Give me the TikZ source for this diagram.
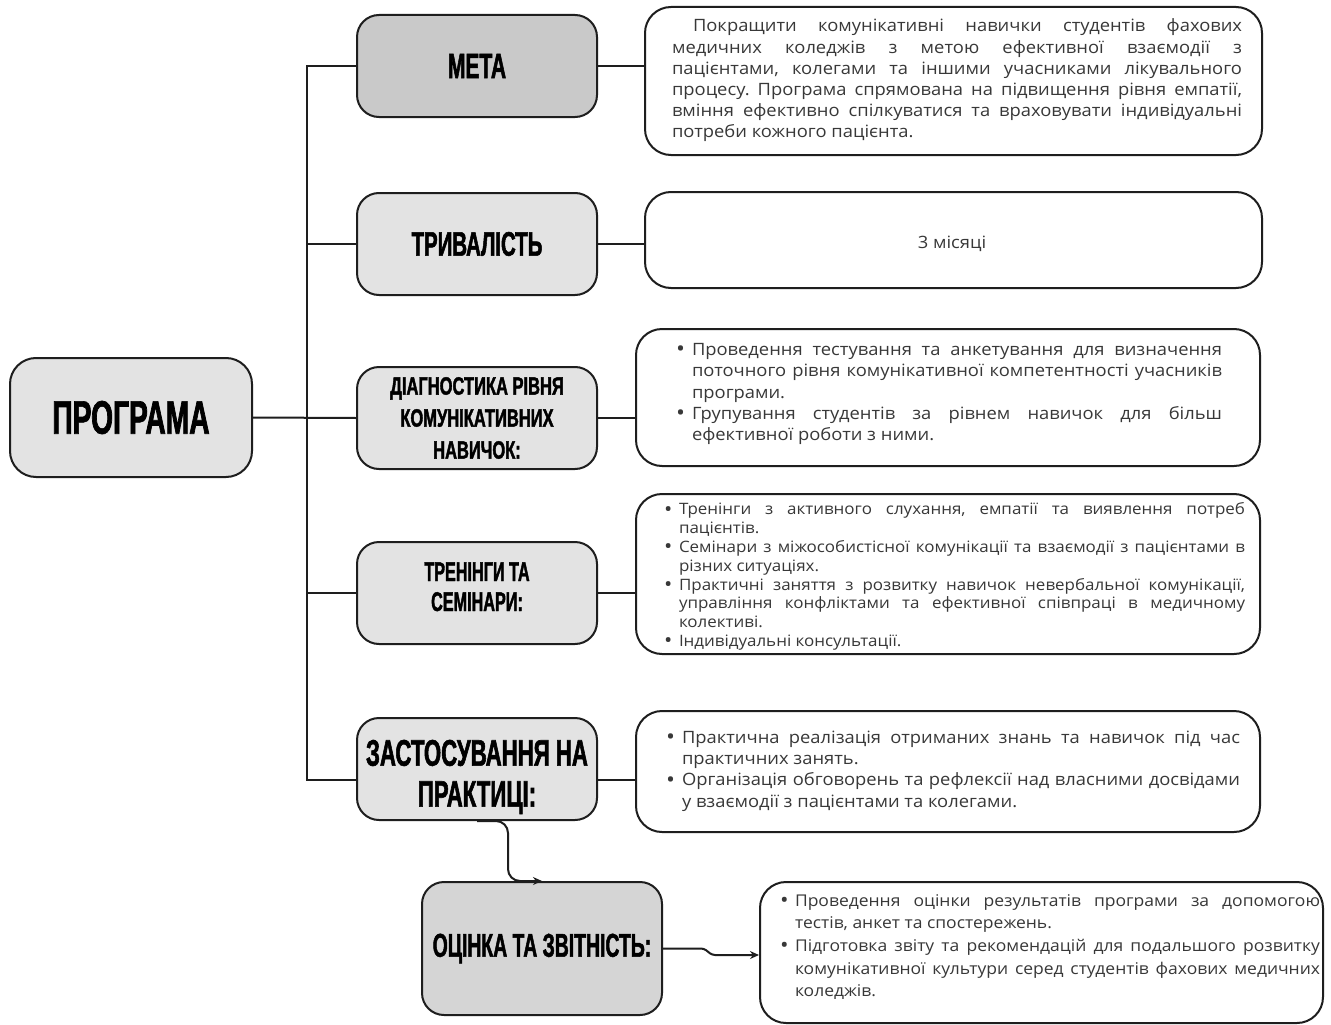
\documentclass[tikz,border=0pt]{standalone}
\usepackage{fontspec}
\setmainfont{Open Sans}[FakeStretch=1.08]
\newfontfamily\ttlfont{Liberation Sans}[FakeStretch=0.6, BoldFeatures={FakeStretch=0.6, FakeBold=1.5}]
\usetikzlibrary{arrows.meta}

\definecolor{ink}{HTML}{1E1E1E}
\definecolor{txtc}{HTML}{383838}
\definecolor{fillA}{HTML}{E3E3E3}
\definecolor{fillB}{HTML}{C9C9C9}
\definecolor{fillC}{HTML}{D5D5D5}

\tolerance=9999
\hbadness=10000
\frenchspacing

% bullet paragraph with hanging indent: #1 = indent, #2 = text
\newcommand\bul[2]{\hangindent=#1\hangafter=1\noindent
  \makebox[#1][l]{\raisebox{-1.3pt}{\scalebox{1.3}{•}}}#2\par}

\tikzset{
  hbox/.style={draw=ink, line width=2pt, rounded corners=22pt, fill=fillA,
    minimum width=240pt, minimum height=102pt, align=center, inner sep=0pt, text=black},
  tbox/.style={draw=ink, line width=2pt, rounded corners=26pt, fill=white},
  body/.style={text=txtc, align=justify, inner sep=0pt,
    font=\fontsize{17}{21.2}\selectfont},
  small/.style={font=\fontsize{15.7}{18.8}\selectfont},
  link/.style={draw=ink, line width=2pt},
  arr/.style={link, -{Stealth[length=9pt,width=8pt]}},
}

\begin{document}
\begin{tikzpicture}[x=1pt, y=-1pt]
\useasboundingbox[fill=white] (0,0) rectangle (1331,1025);

% ---- left column ----
\node[hbox, minimum width=242pt, minimum height=119pt, rounded corners=26pt,
      font=\fontsize{47}{50}\ttlfont\bfseries] (prog) at (131,417.5) {ПРОГРАМА};

\node[hbox, fill=fillB, font=\fontsize{35}{38}\ttlfont\bfseries] (meta) at (477,66) {МЕТА};
\node[hbox, font=\fontsize{34}{38}\ttlfont\bfseries] (triv) at (477,244) {ТРИВАЛІСТЬ};
\node[hbox, font=\fontsize{25}{32}\ttlfont\bfseries] (diag) at (477,418)
  {\scalebox{1.1}[1]{ДІАГНОСТИКА РІВНЯ}\\\scalebox{1.1}[1]{КОМУНІКАТИВНИХ}\\\scalebox{1.1}[1]{НАВИЧОК:}};
\node[hbox, font=\fontsize{27}{30}\ttlfont\bfseries] (tren) at (477,593)
  {\raisebox{3pt}[\height][\depth]{\begin{tabular}{@{}c@{}}ТРЕНІНГИ ТА\\СЕМІНАРИ:\end{tabular}}};
\node[hbox, font=\fontsize{37}{41}\ttlfont\bfseries] (zast) at (477,769)
  {\raisebox{-9pt}[\height][\depth]{\begin{tabular}{@{}c@{}}ЗАСТОСУВАННЯ НА\\ПРАКТИЦІ:\end{tabular}}};
\node[hbox, fill=fillC, minimum height=133pt, font=\fontsize{33}{38}\ttlfont\bfseries]
  (ocin) at (542,948.5) {\scalebox{0.98}[1]{ОЦІНКА ТА ЗВІТНІСТЬ:}};

% ---- right column: frames ----
\node[tbox, minimum width=617pt, minimum height=148pt] (metaT) at (953.5,81) {};
\node[tbox, minimum width=617pt, minimum height=96pt] (trivT) at (953.5,240) {};
\node[tbox, minimum width=624pt, minimum height=137pt] (diagT) at (948,397.5) {};
\node[tbox, minimum width=624pt, minimum height=160pt] (trenT) at (948,574) {};
\node[tbox, minimum width=624pt, minimum height=121pt] (zastT) at (948,771.5) {};
\node[tbox, minimum width=563pt, minimum height=141pt] (ocinT) at (1041.5,952.5) {};

% ---- right column: texts ----
\node[body, text width=570pt] (metaTx) at (957,80.5) {%
\hspace*{21pt}Покращити комунікативні навички студентів фахових\linebreak
медичних коледжів з метою ефективної взаємодії з\linebreak
пацієнтами, колегами та іншими учасниками лікувального\linebreak
процесу. Програма спрямована на підвищення рівня емпатії,\linebreak
вміння ефективно спілкуватися та враховувати індивідуальні\linebreak
потреби кожного пацієнта.};

\node[body, align=center] (trivTx) at (952,244) {3 місяці};

\node[body, text width=546pt] (diagTx) at (949,394) {%
\bul{16pt}{Проведення тестування та анкетування для визначення\linebreak
поточного рівня комунікативної компетентності учасників\linebreak
програми.}
\bul{16pt}{Групування студентів за рівнем навичок для більш\linebreak
ефективної роботи з ними.}};

\node[body, small, text width=581pt] (trenTx) at (954.5,576.5) {%
\bul{15pt}{Тренінги з активного слухання, емпатії та виявлення потреб\linebreak
пацієнтів.}
\bul{15pt}{Семінари з міжособистісної комунікації та взаємодії з пацієнтами в\linebreak
різних ситуаціях.}
\bul{15pt}{Практичні заняття з розвитку навичок невербальної комунікації,\linebreak
управління конфліктами та ефективної співпраці в медичному\linebreak
колективі.}
\bul{15pt}{Індивідуальні консультації.}};

\node[body, text width=574pt] (zastTx) at (953,771) {%
\bul{16pt}{Практична реалізація отриманих знань та навичок під час\linebreak
практичних занять.}
\bul{16pt}{Організація обговорень та рефлексії над власними досвідами\linebreak
у взаємодії з пацієнтами та колегами.}};

\node[body, font=\fontsize{16.2}{22.7}\selectfont, text width=540pt] (ocinTx) at (1050,947) {%
\bul{15pt}{Проведення оцінки результатів програми за допомогою\linebreak
тестів, анкет та спостережень.}
\bul{15pt}{Підготовка звіту та рекомендацій для подальшого розвитку\linebreak
комунікативної культури серед студентів фахових медичних\linebreak
коледжів.}};

% ---- connectors ----
\coordinate (jTop) at (307,66);
\coordinate (jBot) at (307,780);
\draw[link] (meta.west) -- (jTop) -- (jBot) -- (zast.west |- jBot);
\draw[link] (triv.west) -- (triv.west -| jTop);
\draw[link] (prog.east) -- (diag.west);
\draw[link] (tren.west) -- (tren.west -| jTop);

\draw[link] (meta.east) -- (meta.east -| metaT.west);
\draw[link] (triv.east) -- (triv.east -| trivT.west);
\draw[link] (diag.east) -- (diag.east -| diagT.west);
\draw[link] (tren.east) -- (tren.east -| trenT.west);
\draw[link] (zast.east |- jBot) -- (jBot -| zastT.west);

\coordinate (bend) at (508,850);
\draw[arr, rounded corners=12pt] (zast.south) -| (bend) |- (ocin.north);

\coordinate (jog1) at (704,948.5);
\coordinate (jog2) at (712,955);
\draw[arr, rounded corners=3pt] (ocin.east) -- (jog1) -- (jog2) -- (jog2 -| ocinT.west);
\end{tikzpicture}
\end{document}
